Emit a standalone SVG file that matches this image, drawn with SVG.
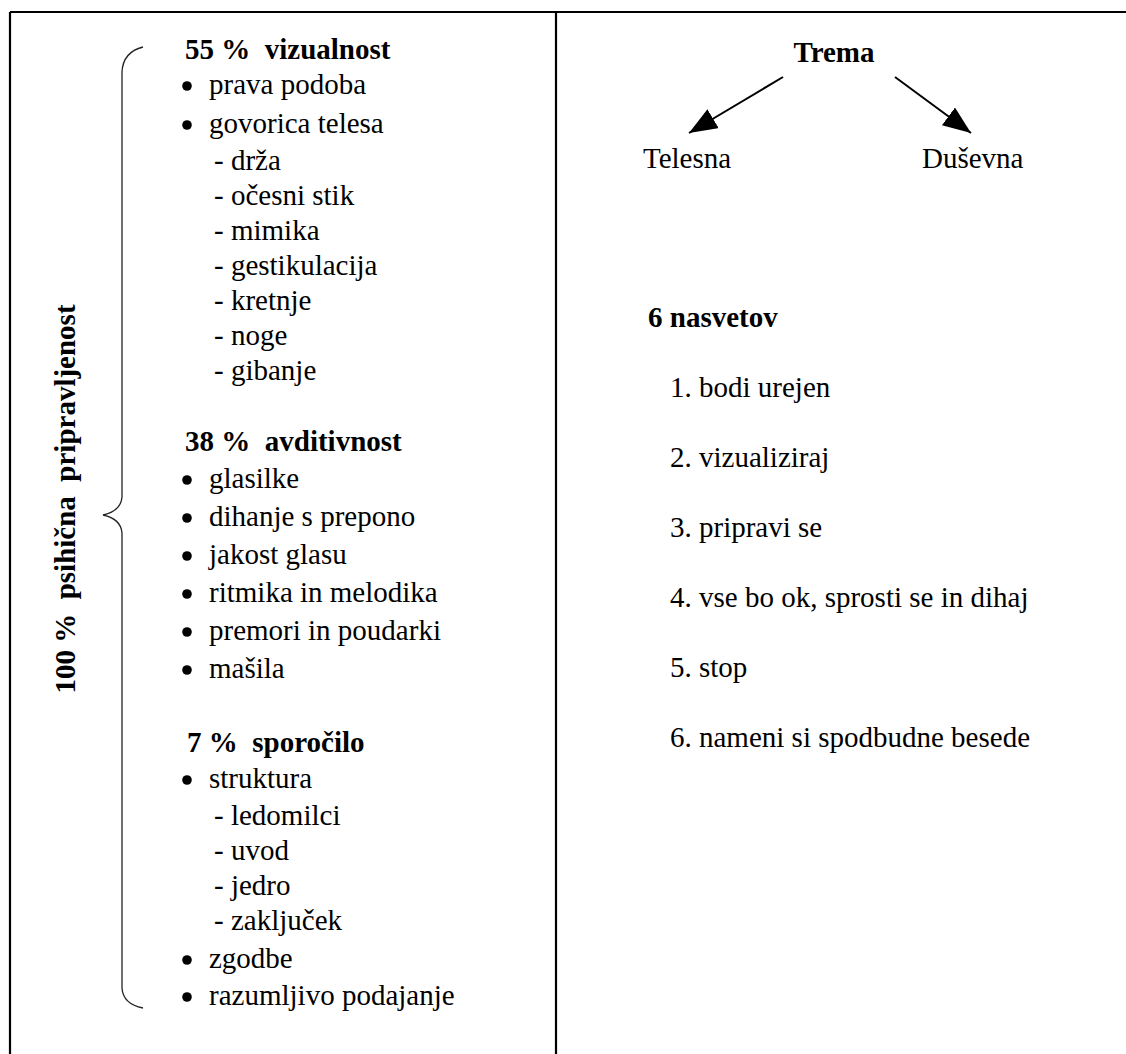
<svg xmlns="http://www.w3.org/2000/svg" width="1126" height="1054" viewBox="0 0 1126 1054">
<defs>
<style>
text{font-family:'Liberation Serif',Tinos,'Times New Roman',Times,serif;font-size:29px;fill:#000;white-space:pre}
.b{font-weight:bold}
.frame{stroke:#000;stroke-width:2.2;fill:none}
.brace{stroke:#222;stroke-width:1.3;fill:none}
.arrow{stroke:#000;stroke-width:2;fill:none}
.dot{fill:#000}
</style>
<marker id="ah" markerUnits="userSpaceOnUse" markerWidth="30" markerHeight="24" refX="28" refY="11" orient="auto">
<path d="M0,0 L28,11 L0,22 Z" fill="#000"/>
</marker>
</defs>
<rect width="1126" height="1054" fill="#fff"/>
<g id="frame">
<line class="frame" x1="10" y1="12" x2="1126" y2="12"/>
<line class="frame" x1="10" y1="12" x2="10" y2="1054"/>
<line class="frame" x1="556" y1="12" x2="556" y2="1054"/>
</g>
<g id="brace">
<path class="brace" d="M143,47 Q123,52 122,72 L122,497 Q121,511 103,515 Q121,519 122,533 L122,988 Q123,1004 143,1008"/>
</g>
<g id="total-label">
<text class="b" transform="translate(75,499) rotate(-90)" text-anchor="middle">100 %  psihična  pripravljenost</text>
</g>
<g id="vizualnost">
<text class="b" x="185" y="59">55 %  vizualnost</text>
<circle class="dot" cx="187" cy="86" r="4.8"/><text x="209" y="94">prava podoba</text>
<circle class="dot" cx="187" cy="125" r="4.8"/><text x="209" y="133">govorica telesa</text>
<text x="214" y="170">- drža</text>
<text x="214" y="205">- očesni stik</text>
<text x="214" y="240">- mimika</text>
<text x="214" y="275">- gestikulacija</text>
<text x="214" y="310">- kretnje</text>
<text x="214" y="345">- noge</text>
<text x="214" y="380">- gibanje</text>
</g>
<g id="avditivnost">
<text class="b" x="185" y="451">38 %  avditivnost</text>
<circle class="dot" cx="187" cy="480" r="4.8"/><text x="209" y="488">glasilke</text>
<circle class="dot" cx="187" cy="518" r="4.8"/><text x="209" y="526">dihanje s prepono</text>
<circle class="dot" cx="187" cy="556" r="4.8"/><text x="209" y="564">jakost glasu</text>
<circle class="dot" cx="187" cy="594" r="4.8"/><text x="209" y="602">ritmika in melodika</text>
<circle class="dot" cx="187" cy="632" r="4.8"/><text x="209" y="640">premori in poudarki</text>
<circle class="dot" cx="187" cy="670" r="4.8"/><text x="209" y="678">mašila</text>
</g>
<g id="sporocilo">
<text class="b" x="187" y="752">7 %  sporočilo</text>
<circle class="dot" cx="187" cy="780" r="4.8"/><text x="209" y="788">struktura</text>
<text x="214" y="825">- ledomilci</text>
<text x="214" y="860">- uvod</text>
<text x="214" y="895">- jedro</text>
<text x="214" y="930">- zaključek</text>
<circle class="dot" cx="187" cy="960" r="4.8"/><text x="209" y="968">zgodbe</text>
<circle class="dot" cx="187" cy="997" r="4.8"/><text x="209" y="1005">razumljivo podajanje</text>
</g>
<g id="trema"><text class="b" x="834" y="62" text-anchor="middle">Trema</text></g>
<g id="telesna"><text x="643" y="168">Telesna</text></g>
<g id="dusevna"><text x="922" y="168">Duševna</text></g>
<g id="nasveti">
<text class="b" x="648" y="327">6 nasvetov</text>
<text x="670" y="397">1. bodi urejen</text>
<text x="670" y="467">2. vizualiziraj</text>
<text x="670" y="537">3. pripravi se</text>
<text x="670" y="607">4. vse bo ok, sprosti se in dihaj</text>
<text x="670" y="677">5. stop</text>
<text x="670" y="747">6. nameni si spodbudne besede</text>
</g>
<g id="connectors">
<line class="arrow" x1="783" y1="77" x2="689" y2="133" marker-end="url(#ah)"/>
<line class="arrow" x1="895" y1="77" x2="971" y2="133" marker-end="url(#ah)"/>
</g>
</svg>
